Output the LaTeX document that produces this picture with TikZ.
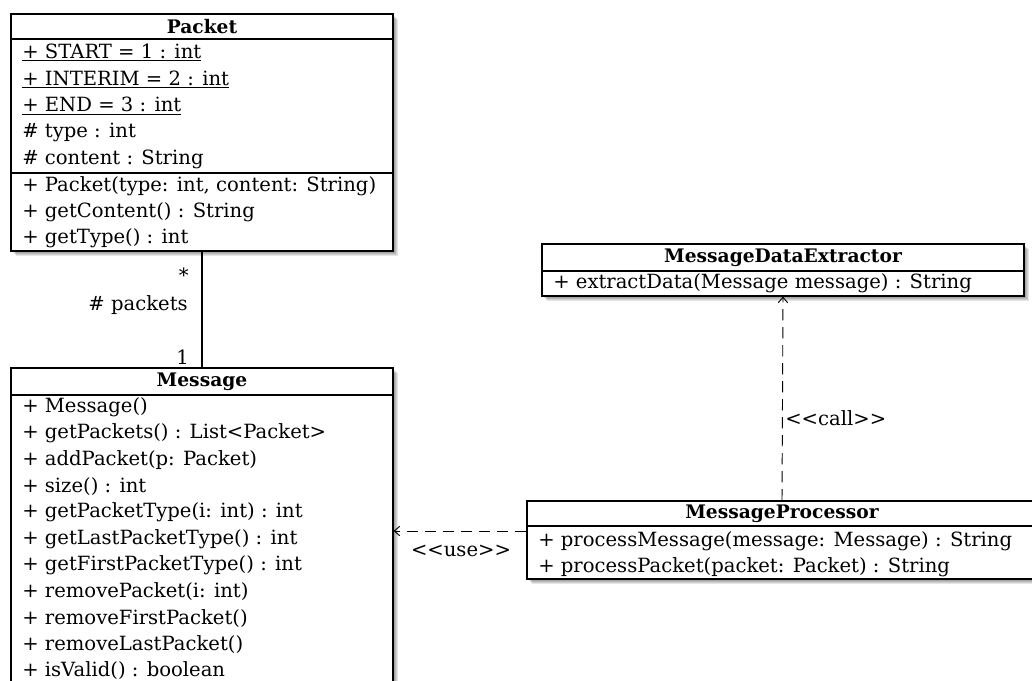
\documentclass[tikz,border=0pt]{standalone}
\usepackage{fontspec}
\setmainfont{DejaVu Serif}
\usetikzlibrary{arrows.meta,fit}
\newcommand\boxshadow[4]{%
  \foreach \s in {1,...,5}{\fill[black,opacity=0.1] (#1+\s,#2+\s) rectangle (#3+\s,#4+\s);}}
\begin{document}
\begin{tikzpicture}[x=0.75pt,y=-0.75pt,
  classbox/.style={draw, line width=0.9pt, inner sep=0pt, fill=white},
  divider/.style={line width=0.9pt},
  ctitle/.style={font=\fontsize{14}{16}\selectfont\bfseries, inner sep=0pt, anchor=center},
  member/.style={font=\fontsize{14.7}{16}\selectfont, inner sep=0pt, anchor=west},
  lbl/.style={font=\fontsize{14.7}{16}\selectfont, inner sep=0pt},
  dep/.style={line width=0.7pt, dash pattern=on 8.5pt off 5pt, -{Straight Barb[length=4pt,width=7pt]}},
  assoc/.style={line width=0.9pt}]
\useasboundingbox (0,0) rectangle (1032,681);

% ---------- Packet ----------
\boxshadow{11}{14}{393}{251}
\node[fit={(11,14) (393,251)}, classbox] (packet) {};
\node[ctitle] (packetT) at (202,27) {Packet};
\draw[divider] (11,39) -- (393,39);
\draw[divider] (11,173) -- (393,173);
\node[member] (pa1) at (22,52.4) {\underline{+ START = 1 : int}};
\node[member] (pa2) at (22,79.2) {\underline{+ INTERIM = 2 : int}};
\node[member] (pa3) at (22,106) {\underline{+ END = 3 : int}};
\node[member] (pa4) at (22,132.8) {\# type : int};
\node[member] (pa5) at (22,159.6) {\# content : String};
\node[member] (pm1) at (22,186) {+ Packet(type: int, content: String)};
\node[member] (pm2) at (22,212) {+ getContent() : String};
\node[member] (pm3) at (22,238) {+ getType() : int};

% ---------- Message ----------
\boxshadow{11}{368}{393}{700}
\node[fit={(11,368) (393,700)}, classbox] (message) {};
\node[ctitle] (messageT) at (202,381.5) {Message};
\draw[divider] (11,395) -- (393,395);
\node[member] (mm1) at (22,407) {+ Message()};
\node[member] (mm2) at (22,433.4) {+ getPackets() : List<Packet>};
\node[member] (mm3) at (22,459.8) {+ addPacket(p: Packet)};
\node[member] (mm4) at (22,486.2) {+ size() : int};
\node[member] (mm5) at (22,512.6) {+ getPacketType(i: int) : int};
\node[member] (mm6) at (22,539) {+ getLastPacketType() : int};
\node[member] (mm7) at (22,565.4) {+ getFirstPacketType() : int};
\node[member] (mm8) at (22,591.8) {+ removePacket(i: int)};
\node[member] (mm9) at (22,618.2) {+ removeFirstPacket()};
\node[member] (mm10) at (22,644.6) {+ removeLastPacket()};
\node[member] (mm11) at (22,671) {+ isValid() : boolean};

% ---------- MessageDataExtractor ----------
\boxshadow{542}{244}{1024}{296}
\node[fit={(542,244) (1024,296)}, classbox] (mde) {};
\node[ctitle] (mdeT) at (783,257.5) {MessageDataExtractor};
\draw[divider] (542,271) -- (1024,271);
\node[member] (mdem1) at (553,283.5) {+ extractData(Message message) : String};

% ---------- MessageProcessor ----------
\boxshadow{527}{501}{1037}{579}
\node[fit={(527,501) (1037,579)}, classbox] (mp) {};
\node[ctitle] (mpT) at (782,513.5) {MessageProcessor};
\draw[divider] (527,526) -- (1037,526);
\node[member] (mpm1) at (538,541.5) {+ processMessage(message: Message) : String};
\node[member] (mpm2) at (538,567) {+ processPacket(packet: Packet) : String};

% ---------- connectors ----------
\draw[assoc] (packet.south) -- (message.north);
\node[lbl, anchor=east] (mstar) at (189,275) {*};
\node[lbl, anchor=east] (role) at (188,305) {\# packets};
\node[lbl, anchor=east] (mone) at (189,357) {1};

\draw[dep] (mp.north) -- (mde.south);
\node[lbl, anchor=west] (calllbl) at (785,418) {<{}<call>{}>};

\coordinate (usey) at (0,531);
\draw[dep] (mp.west |- usey) -- (message.east |- usey);
\node[lbl] (uselbl) at (461,551) {<{}<use>{}>};
\end{tikzpicture}
\end{document}
